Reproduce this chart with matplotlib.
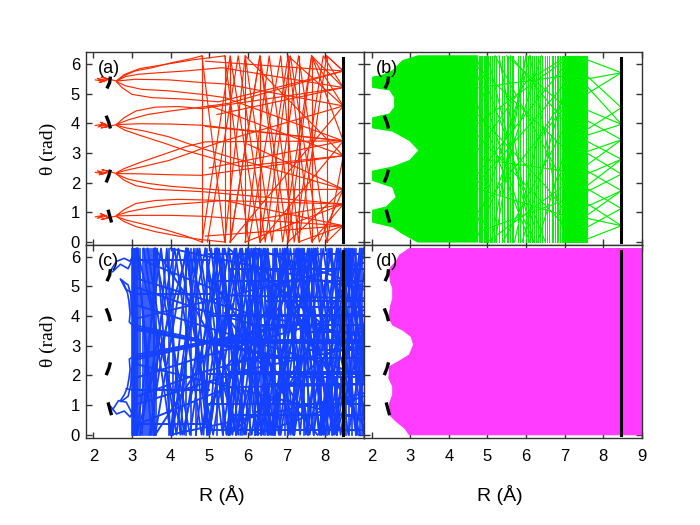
import matplotlib
matplotlib.use("Agg")
import matplotlib.pyplot as plt
from matplotlib.patches import Polygon

TWO_PI = 6.28
RED = "#ff2a00"
GREEN = "#00ee00"
BLUE = "#1440ff"
MAGENTA = "#ff3cff"

# ---------------- common marks ----------------
ARCS = [
    [(2.35, 5.18), (2.42, 5.38), (2.44, 5.58)],
    [(2.33, 4.26), (2.40, 4.03), (2.44, 3.83)],
    [(2.44, 2.44), (2.40, 2.24), (2.33, 2.01)],
    [(2.38, 1.09), (2.42, 0.89), (2.47, 0.66)],
]
WALL_R = 8.47
WALL_TOP = 6.2

# ---------------- panel (a) ----------------
A_SCRIBBLE = [
    [(2.05, 5.47), (2.25, 5.42), (2.10, 5.52), (2.35, 5.45), (2.15, 5.38), (2.40, 5.50), (2.20, 5.56), (2.60, 5.43)],
    [(2.05, 3.93), (2.25, 3.98), (2.12, 3.88), (2.35, 3.96), (2.18, 4.04), (2.40, 3.90), (2.20, 3.85), (2.60, 3.96)],
    [(2.05, 2.35), (2.25, 2.30), (2.10, 2.40), (2.35, 2.33), (2.15, 2.27), (2.40, 2.38), (2.22, 2.44), (2.60, 2.31)],
    [(2.05, 0.85), (2.25, 0.90), (2.10, 0.80), (2.35, 0.88), (2.18, 0.96), (2.40, 0.82), (2.20, 0.76), (2.60, 0.88)],
]
A_TRAJ = [
    # bundle near 5.4
    [(2.6, 5.43), (2.78, 5.60), (3.08, 5.77), (3.52, 5.88), (4.03, 6.05), (4.55, 6.19), (4.81, 6.28)],
    [(2.6, 5.43), (2.83, 5.58), (3.17, 5.66), (3.69, 5.71), (4.38, 5.77), (5.33, 5.88), (8.47, 5.21), (5.2, 4.30)],
    [(2.6, 5.44), (2.80, 5.65), (3.20, 5.85), (3.90, 6.00), (4.60, 6.15), (5.40, 6.28)],
    [(2.6, 5.43), (3.08, 5.49), (3.95, 5.47), (4.81, 5.38), (5.41, 5.33), (8.47, 4.59), (5.54, 0.0)],
    [(2.6, 5.41), (2.83, 5.27), (3.25, 5.15), (3.95, 5.10), (4.81, 4.98), (5.41, 4.87), (8.47, 3.41), (6.31, 0.0)],
    [(2.6, 5.40), (2.74, 5.21), (3.00, 4.98), (3.52, 4.87), (4.38, 4.82), (5.24, 4.73), (8.47, 5.77), (8.04, 6.28)],
    # bundle near 3.95
    [(2.6, 3.97), (2.80, 4.20), (3.10, 4.42), (3.60, 4.55), (4.20, 4.57), (4.80, 4.50), (8.47, 5.21), (7.65, 6.28)],
    [(2.6, 3.97), (2.90, 4.12), (3.40, 4.30), (4.00, 4.42), (4.80, 4.55), (5.50, 4.68), (8.47, 5.77), (4.9, 6.10)],
    [(2.6, 3.96), (3.20, 3.99), (4.00, 3.98), (4.80, 3.94), (8.47, 3.41), (5.0, 2.50)],
    [(2.6, 3.94), (2.85, 3.85), (3.30, 3.75), (3.95, 3.55), (4.50, 3.30), (4.90, 3.12), (5.40, 2.92), (8.47, 1.78), (7.04, 0.0)],
    [(2.6, 3.93), (2.80, 3.78), (3.20, 3.60), (3.80, 3.35), (4.40, 3.08), (4.90, 2.90), (5.80, 2.55), (8.47, 2.91), (5.93, 6.28)],
    # bundle near 2.3
    [(2.6, 2.33), (2.85, 2.42), (3.30, 2.55), (3.95, 2.75), (4.50, 3.00), (4.90, 3.20), (5.40, 3.42), (8.47, 4.59), (7.04, 6.28)],
    [(2.6, 2.34), (2.80, 2.48), (3.20, 2.68), (3.80, 2.95), (4.40, 3.22), (4.90, 3.38), (8.47, 3.41), (4.9, 3.90)],
    [(2.6, 2.31), (3.20, 2.30), (4.00, 2.27), (4.80, 2.25), (8.47, 2.91), (5.0, 4.60)],
    [(2.6, 2.29), (2.80, 2.08), (3.10, 1.90), (3.60, 1.78), (4.20, 1.74), (4.80, 1.70), (8.47, 1.28), (5.93, 0.0)],
    [(2.6, 2.29), (2.90, 2.12), (3.40, 1.98), (4.00, 1.88), (4.80, 1.80), (5.40, 1.74), (8.47, 1.78), (6.0, 3.30)],
    # bundle near 0.9
    [(2.6, 0.90), (2.80, 1.10), (3.10, 1.30), (3.60, 1.40), (4.20, 1.44), (4.80, 1.42), (8.47, 1.28), (6.0, 0.70)],
    [(2.6, 0.90), (2.90, 1.02), (3.40, 1.15), (4.00, 1.26), (4.80, 1.34), (5.40, 1.40), (8.47, 0.55), (7.31, 0.0)],
    [(2.6, 0.88), (3.20, 0.90), (4.00, 0.90), (4.80, 0.87), (8.47, 0.55), (4.9, 0.20)],
    [(2.6, 0.86), (2.85, 0.74), (3.30, 0.60), (3.90, 0.40), (4.40, 0.20), (4.81, 0.0)],
    [(2.6, 0.86), (2.78, 0.70), (3.10, 0.52), (3.60, 0.35), (4.20, 0.20), (4.80, 0.08), (5.40, 0.0)],
    # outer zigzags
    [(4.81, 0.0), (5.54, 6.28), (6.31, 0.0), (7.04, 6.28), (7.65, 0.0), (8.47, 1.28)],
    [(4.81, 6.28), (5.40, 0.0), (5.93, 6.28), (6.62, 0.0), (7.31, 6.28), (8.04, 0.0), (8.47, 0.55)],
    [(5.40, 6.28), (6.02, 0.0), (6.85, 6.28), (7.31, 0.0), (8.04, 6.28), (8.47, 5.77)],
    [(5.54, 0.0), (6.31, 6.28), (7.04, 0.0), (7.65, 6.28), (8.47, 4.59)],
    [(5.93, 0.0), (6.55, 6.28), (7.20, 0.0), (7.95, 6.28), (8.47, 5.21)],
    [(4.95, 0.0), (5.75, 6.28), (6.45, 0.0), (7.10, 6.28), (7.85, 0.0), (8.47, 1.78)],
    [(8.47, 3.41), (7.65, 6.28), (6.90, 0.0), (6.31, 6.28), (5.54, 0.0)],
    [(8.47, 2.91), (8.04, 0.0)],
]
A_VERT = [4.81, 5.40, 5.54, 5.93, 6.31, 7.04, 7.31, 7.65, 8.04]

# ---------------- panel (b) ----------------
B_SOLID = [(3.20, 6.28), (2.81, 6.12), (2.55, 5.78), (2.29, 5.63), (2.03, 5.56), (2.03, 5.22),
           (2.47, 5.13), (2.60, 4.88), (2.60, 4.55), (2.47, 4.32), (2.03, 4.19), (2.03, 3.85),
           (2.55, 3.74), (2.99, 3.42), (3.23, 3.09), (2.99, 2.75), (2.55, 2.53), (2.03, 2.39),
           (2.03, 2.08), (2.55, 1.85), (2.64, 1.51), (2.38, 1.18), (2.03, 1.07), (2.03, 0.67),
           (2.55, 0.51), (2.81, 0.28), (3.20, 0.0), (4.75, 0.0), (4.75, 6.28)]
B_BAND = [(6.97, 0.0), (7.58, 0.0), (7.58, 6.28), (6.97, 6.28)]
B_VERT = [4.78, 4.81, 4.84, 4.87, 4.90, 4.93, 4.96, 4.99, 5.02, 5.08, 5.12, 5.18, 5.22,
          5.30, 5.37, 5.42, 5.50, 5.54, 5.58, 5.63, 5.67, 5.80, 5.85, 5.93, 6.01, 6.06, 6.10,
          6.15, 6.20, 6.25, 6.30, 6.36, 6.41, 6.48, 6.54, 6.60, 6.66, 6.71, 6.75, 6.80, 6.84,
          6.88, 6.93]
B_DIAG = [
    [(4.75, 5.9), (6.97, 3.2)], [(4.75, 1.0), (6.97, 4.5)], [(5.0, 6.28), (6.2, 0.0)],
    [(5.1, 0.0), (6.0, 6.28)], [(4.75, 3.6), (6.97, 0.6)], [(4.75, 2.3), (6.97, 5.9)],
    [(5.2, 6.28), (6.97, 2.0)], [(5.4, 0.0), (6.97, 3.8)], [(4.75, 4.6), (6.1, 0.0)],
    [(4.9, 0.4), (6.97, 1.4)], [(4.75, 5.2), (6.97, 5.6)], [(4.8, 2.8), (6.97, 2.4)],
    [(5.6, 6.28), (6.97, 4.1)], [(5.9, 0.0), (6.97, 5.0)], [(4.75, 0.2), (5.6, 3.0), (6.4, 6.28)],
    [(4.75, 6.1), (5.5, 3.5), (6.2, 0.6)], [(6.1, 6.28), (6.97, 0.3)], [(6.3, 0.0), (6.97, 2.9)],
    [(4.75, 4.0), (6.97, 6.1)], [(4.75, 1.8), (6.97, 0.9)], [(5.3, 6.28), (5.9, 2.0), (6.5, 0.0)],
    [(4.75, 3.1), (6.0, 5.4), (6.97, 6.2)], [(5.7, 0.0), (6.3, 3.5), (6.97, 4.8)],
    [(4.75, 5.6), (5.8, 1.2), (6.2, 0.0)], [(4.75, 0.7), (5.9, 5.2), (6.1, 6.28)],
    [(5.2, 0.0), (5.7, 3.9), (6.0, 6.28)], [(4.75, 2.0), (6.4, 4.4), (6.97, 5.3)],
    [(4.75, 4.3), (6.5, 1.9), (6.97, 1.1)], [(5.5, 6.28), (6.97, 4.6)], [(5.0, 0.0), (6.97, 1.9)],
]
B_WALL = [
    [(7.58, 6.15), (8.47, 5.71), (7.58, 5.00)], [(7.58, 5.50), (8.47, 5.71)],
    [(7.58, 5.60), (8.47, 4.53), (7.58, 3.80)],
    [(7.58, 5.25), (8.47, 3.97), (7.58, 4.45)], [(7.58, 3.60), (8.47, 3.97)],
    [(7.58, 4.10), (8.47, 3.45), (7.58, 3.05)], [(7.58, 2.60), (8.47, 3.45)],
    [(7.58, 3.40), (8.47, 2.79), (7.58, 2.30)], [(7.58, 1.90), (8.47, 2.79)],
    [(7.58, 3.00), (8.47, 2.29), (7.58, 1.70)],
    [(7.58, 2.40), (8.47, 1.73), (7.58, 1.20)], [(7.58, 0.90), (8.47, 1.73)],
    [(7.58, 1.80), (8.47, 1.13), (7.58, 0.50)],
    [(7.58, 1.30), (8.47, 0.55), (7.58, 0.10)], [(7.58, 0.80), (8.47, 0.55)],
]

# ---------------- panel (c) ----------------
C_INNER = [
    [(2.45, 5.55), (2.60, 5.85), (2.80, 5.95), (2.95, 5.85), (3.05, 6.10)],
    [(2.50, 5.50), (2.70, 5.75), (2.90, 5.60), (3.00, 5.90), (3.05, 5.70)],
    [(2.70, 5.25), (2.80, 5.00), (2.88, 4.80), (2.92, 4.50), (2.95, 4.10), (2.93, 3.80), (3.05, 3.65)],
    [(2.75, 5.20), (2.85, 4.90), (3.05, 4.75)],
    [(2.72, 5.22), (2.90, 5.05), (2.97, 4.70), (2.98, 4.20), (3.05, 3.75)],
    [(3.05, 2.65), (2.93, 2.55), (2.95, 2.20), (2.92, 1.90), (2.88, 1.60), (2.80, 1.35), (2.70, 1.15)],
    [(3.05, 2.55), (2.98, 2.10), (2.97, 1.70), (2.90, 1.30), (2.72, 1.12)],
    [(2.50, 0.85), (2.65, 1.15), (2.85, 1.10), (2.95, 0.85), (3.05, 0.55)],
    [(2.45, 0.95), (2.60, 0.70), (2.80, 0.80), (2.95, 0.60), (3.05, 0.85)],
    [(2.85, 1.55), (3.05, 1.50)],
]
C_VERT = [3.00, 3.02, 3.04, 3.06, 3.08, 3.10, 3.12, 3.15, 3.20, 3.28, 3.33, 3.38, 3.43, 3.48,
          3.53, 3.56, 3.58, 3.62, 3.95, 4.05, 4.40, 4.52, 4.65, 4.95, 5.20, 5.35, 5.50, 5.70,
          5.85, 6.05, 6.19, 6.27, 6.35, 6.45, 6.52, 6.65, 6.70, 6.83, 6.95, 7.05, 7.20, 7.44,
          7.56, 7.70, 7.90, 8.05, 8.17, 8.30, 8.55, 8.62, 8.70, 8.80, 8.90, 8.96]
C_ZIG_R = [
    [3.12, 3.75, 4.35, 5.05, 5.60, 6.30, 6.85, 7.55, 8.10, 8.75, 9.30],
    [3.12, 3.60, 4.40, 4.95, 5.80, 6.35, 7.10, 7.70, 8.35, 9.00, 9.50],
    [3.20, 4.10, 4.80, 5.50, 6.40, 7.00, 7.90, 8.50, 9.30],
    [3.30, 4.00, 4.90, 5.70, 6.30, 7.20, 7.95, 8.60, 9.40],
    [3.45, 4.20, 5.10, 5.85, 6.65, 7.40, 8.20, 9.00],
    [3.58, 4.50, 5.20, 6.10, 6.75, 7.60, 8.30, 9.10],
    [4.05, 4.70, 5.35, 6.00, 6.60, 7.25, 7.85, 8.55, 9.20],
    [4.40, 5.00, 5.65, 6.20, 6.90, 7.50, 8.15, 8.80, 9.40],
    [4.65, 5.25, 5.95, 6.50, 7.15, 7.80, 8.40, 9.10],
    [3.12, 4.30, 5.40, 6.55, 7.70, 8.90],
    [3.12, 4.45, 5.70, 7.00, 8.30, 9.50],
    [5.20, 5.90, 6.45, 7.05, 7.65, 8.25, 8.90],
    [5.50, 6.20, 6.80, 7.45, 8.00, 8.70, 9.30],
    [3.40, 4.15, 4.75, 5.45, 6.00, 6.60, 7.30, 8.00, 8.65, 9.30],
    [3.15, 3.50, 3.90, 4.25, 4.60, 5.00, 5.35, 5.75, 6.15, 6.50, 6.95, 7.35, 7.75, 8.20, 8.60, 9.05],
    [3.25, 3.65, 4.00, 4.45, 4.85, 5.15, 5.55, 5.95, 6.35, 6.70, 7.20, 7.60, 7.95, 8.40, 8.80, 9.25],
    [4.90, 5.45, 6.10, 6.60, 7.30, 7.85, 8.50, 9.05],
    [5.00, 5.70, 6.25, 6.95, 7.55, 8.10, 8.85],
    [5.80, 6.40, 7.10, 7.70, 8.30, 8.95],
    [6.00, 6.70, 7.35, 7.95, 8.60, 9.20],
]
C_ZIG_START = [0, 1, 0, 1, 0, 1, 0, 1, 0, 1, 0, 1, 0, 1, 1, 0, 1, 0, 0, 1]
C_SEG = [
    [(3.05, 3.62), (5.0, 3.10), (7.0, 2.55)], [(3.05, 3.70), (5.0, 3.14), (7.0, 2.60)],
    [(3.05, 3.55), (5.0, 3.08), (6.8, 2.60)], [(3.05, 2.60), (5.0, 3.12), (7.0, 3.65)],
    [(3.05, 2.68), (5.0, 3.16), (7.0, 3.70)], [(3.05, 2.52), (5.0, 3.10), (6.8, 3.60)],
    [(3.05, 4.40), (5.0, 3.60), (9.0, 2.00)], [(3.05, 1.90), (5.0, 2.70), (9.0, 4.20)],
    [(3.05, 5.30), (6.0, 4.10), (9.0, 3.30)], [(3.05, 1.00), (6.0, 2.20), (9.0, 3.00)],
    [(3.05, 6.00), (5.5, 4.70), (9.0, 4.60)], [(3.05, 0.30), (5.5, 1.60), (9.0, 1.70)],
    [(3.05, 3.90), (9.0, 5.80)], [(3.05, 2.40), (9.0, 0.50)],
    [(4.0, 6.28), (9.0, 4.90)], [(4.0, 0.0), (9.0, 1.40)], [(5.5, 6.28), (9.0, 2.60)],
    [(5.5, 0.0), (9.0, 3.70)], [(6.2, 6.28), (9.0, 5.00)], [(6.2, 0.0), (9.0, 1.30)],
    [(3.05, 5.00), (4.8, 4.20), (6.5, 3.60)], [(3.05, 1.25), (4.8, 2.10), (6.5, 2.70)],
    [(5.0, 1.00), (6.2, 3.20), (7.4, 5.40)], [(5.0, 5.30), (6.2, 3.10), (7.4, 0.90)],
    [(6.5, 0.8), (7.6, 3.0), (8.7, 5.3)], [(6.5, 5.5), (7.6, 3.2), (8.7, 1.0)],
    [(5.4, 2.2), (6.6, 4.4), (7.8, 6.28)], [(5.4, 4.1), (6.6, 1.9), (7.8, 0.0)],
    [(7.0, 1.5), (8.0, 4.0), (9.0, 6.0)], [(7.0, 4.8), (8.0, 2.3), (9.0, 0.3)],
    [(3.6, 0.0), (4.7, 2.2), (5.6, 4.4)], [(3.6, 6.28), (4.7, 4.1), (5.6, 1.9)],
]
C_HORIZ = [(3.14, 4.9, 9.0), (3.10, 4.9, 9.0), (3.18, 5.2, 9.0), (4.00, 5.0, 9.0), (4.05, 5.5, 9.0),
           (2.05, 5.0, 9.0), (2.10, 5.5, 9.0), (5.20, 5.0, 9.0), (1.05, 5.0, 9.0), (4.75, 3.05, 5.0),
           (1.52, 3.05, 5.0), (5.60, 5.5, 9.0), (0.65, 5.5, 9.0), (2.60, 6.0, 9.0), (3.70, 6.0, 9.0),
           (4.50, 6.5, 9.0), (1.70, 6.5, 9.0), (5.90, 3.1, 5.0), (0.35, 3.1, 5.0), (6.10, 5.0, 9.0),
           (0.15, 5.0, 9.0), (4.30, 7.0, 9.0), (1.95, 7.0, 9.0), (2.85, 7.5, 9.0), (3.45, 7.5, 9.0)]

# ---------------- panel (d) ----------------
D_SOLID = [(2.98, 6.28), (2.73, 6.06), (2.64, 5.84), (2.51, 5.67), (2.46, 5.56), (2.49, 5.16),
           (2.55, 4.94), (2.55, 4.60), (2.49, 4.32), (2.45, 3.93), (2.55, 3.70), (2.81, 3.53),
           (3.03, 3.31), (3.09, 3.03), (2.98, 2.69), (2.73, 2.49), (2.47, 2.30), (2.45, 1.91),
           (2.55, 1.63), (2.55, 1.35), (2.47, 1.07), (2.47, 0.67), (2.64, 0.45), (2.86, 0.22),
           (2.98, 0.0), (9.10, 0.0), (9.10, 6.28)]

X_TICKS = [2, 3, 4, 5, 6, 7, 8, 9]
Y_TICKS = [0, 1, 2, 3, 4, 5, 6]
PANEL_LABELS = ["(a)", "(b)", "(c)", "(d)"]

LW = 0.85


def draw_lines(ax, lines, color, lw=LW, z=2):
    for ln in lines:
        ax.plot([p[0] for p in ln], [p[1] for p in ln], color=color, lw=lw, zorder=z)


def draw_vert(ax, rs, color, lw=LW):
    for r in rs:
        ax.plot([r, r], [0.0, TWO_PI], color=color, lw=lw, zorder=2)


def draw_zig(ax, chains, starts, color, lw=LW):
    for chain, s in zip(chains, starts):
        th = [TWO_PI * ((i + s) % 2) for i in range(len(chain))]
        ax.plot(chain, th, color=color, lw=lw, zorder=2)


fig = plt.figure(figsize=(7, 5.25), dpi=100)
gs = fig.add_gridspec(2, 2, left=0.1224, right=0.917, top=0.9004, bottom=0.1663,
                      hspace=0, wspace=0)
axs = [fig.add_subplot(gs[i, j]) for i in range(2) for j in range(2)]

# (a)
ax = axs[0]
draw_lines(ax, A_SCRIBBLE, RED)
draw_lines(ax, A_TRAJ, RED)
draw_vert(ax, A_VERT, RED)

# (b)
ax = axs[1]
ax.add_patch(Polygon(B_SOLID, closed=True, facecolor=GREEN, edgecolor=GREEN, lw=0.8, zorder=2))
ax.add_patch(Polygon(B_BAND, closed=True, facecolor=GREEN, edgecolor=GREEN, lw=0.8, zorder=2))
draw_vert(ax, B_VERT, GREEN, lw=0.7)
draw_lines(ax, B_DIAG, GREEN)
draw_lines(ax, B_WALL, GREEN)

# (c)
ax = axs[2]
draw_lines(ax, C_INNER, BLUE, lw=1.2)
draw_vert(ax, C_VERT, BLUE, lw=1.2)
draw_zig(ax, C_ZIG_R, C_ZIG_START, BLUE, lw=1.3)
draw_lines(ax, C_SEG, BLUE, lw=1.4)
for th, r0, r1 in C_HORIZ:
    ax.plot([r0, r1], [th, th], color=BLUE, lw=1.4, zorder=2)

# (d)
ax = axs[3]
ax.add_patch(Polygon(D_SOLID, closed=True, facecolor=MAGENTA, edgecolor=MAGENTA, lw=0.8, zorder=2))

for k, ax in enumerate(axs):
    for arc in ARCS:
        ax.plot([p[0] for p in arc], [p[1] for p in arc], color="black", lw=2.4,
                solid_capstyle="butt", zorder=5)
    ax.plot([WALL_R, WALL_R], [0.0, WALL_TOP], color="black", lw=2.2, zorder=5)
    ax.set_xlim(1.8, 9.0)
    ax.set_ylim(-0.1, 6.4)
    ax.set_xticks(X_TICKS)
    ax.set_yticks(Y_TICKS)
    ax.tick_params(direction="in", length=4.5, width=1.0, top=True, right=True,
                   color="#333333", labelsize=12)
    ax.tick_params(axis="x", pad=8)
    ax.tick_params(axis="y", pad=4)
    for sp in ax.spines.values():
        sp.set_linewidth(1.0)
        sp.set_color("#333333")
    for lab in ax.get_xticklabels() + ax.get_yticklabels():
        lab.set_fontfamily("Liberation Sans")
    ax.text(0.045, 0.916, PANEL_LABELS[k], transform=ax.transAxes, fontsize=13,
            family="Liberation Sans", va="center", ha="left", zorder=6)

axs[0].tick_params(labelbottom=False)
axs[1].tick_params(labelbottom=False, labelleft=False)
axs[3].tick_params(labelleft=False)
axs[2].set_xticklabels([str(t) if t < 9 else "" for t in X_TICKS])

for ax in (axs[0], axs[2]):
    ax.set_ylabel("θ (rad)", fontsize=14, family="Liberation Serif")
    ax.yaxis.set_label_coords(-0.104, 0.5)
for ax in (axs[2], axs[3]):
    ax.set_xlabel("R (Å)", fontsize=14, family="Liberation Sans")
    ax.xaxis.set_label_coords(0.49, -0.245)

fig.savefig("out.png", dpi=100)
